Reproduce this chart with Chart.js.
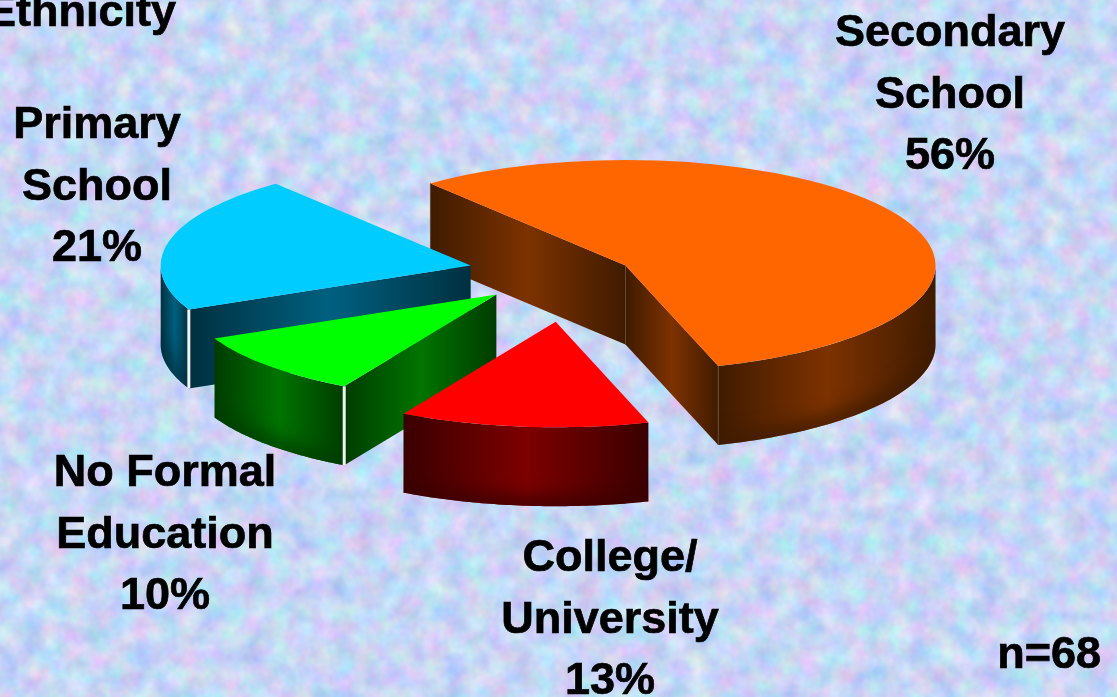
<!DOCTYPE html>
<html>
<head>
<meta charset="utf-8">
<title>Education by ethnicity</title>
<script src="https://cdn.jsdelivr.net/npm/chart.js@4"></script>
<style>
html, body { margin: 0; padding: 0; width: 1117px; height: 697px; overflow: hidden; background: #c6d2f5; }
#bg { position: absolute; left: 0; top: 0; }
#pie { position: absolute; left: 0; top: 0; }
</style>
</head>
<body>
<svg id="bg" width="1117" height="697">
  <filter id="mottle" x="0" y="0" width="100%" height="100%" color-interpolation-filters="sRGB">
    <feTurbulence type="fractalNoise" baseFrequency="0.045" numOctaves="3" seed="7"/>
    <feColorMatrix type="matrix" values="0.38 0 0 0 0.59  0 0.28 0 0 0.70  0 0 0.14 0 0.89  0 0 0 0 1"/>
  </filter>
  <rect width="1117" height="697" filter="url(#mottle)"/>
</svg>
<canvas id="pie" width="1117" height="697"></canvas>
<script>
// Data
const categories = ['Secondary\nSchool', 'College/\nUniversity', 'No Formal\nEducation', 'Primary\nSchool'];
const shares = [56, 13, 10, 21];
const topColors = ['#ff6600', '#ff0000', '#00ff00', '#00ccff'];
const wallMid = ['#7d3200', '#7d0000', '#007400', '#006080'];
const wallDark = ['#3f1b00', '#3a0000', '#003c00', '#00303f'];
const edgeColors = ['#6b4a30', null, '#f2f2f2', '#f2f2f2'];

// Layout of the fake 3D pie
const squash = 0.34;
const depth = 79;
const radius = 310;
const pieCenter = { x: 570, y: 275.5 };
const explodePx = [63, 137, 100, 102];
const liftPx = [0, 0, 4, 2];
const paintOrder = [0, 3, 2, 1];

const labelSpots = [
    { x: 950, y: 46 },
    { x: 610, y: 571 },
    { x: 165, y: 486 },
    { x: 97, y: 138 }
];
const lineGap = 61.5;
const fontBold = 'bold 45px "Liberation Sans"';

function wallGradient(ctx, x0, x1, i) {
    const g = ctx.createLinearGradient(x0, 0, x1, 0);
    g.addColorStop(0, wallDark[i]);
    g.addColorStop(0.5, wallMid[i]);
    g.addColorStop(1, wallDark[i]);
    return g;
}

// Where a slice's tip ends up on screen once it is pulled out of the pie
function tipOf(arc, i) {
    const mid = (arc.startAngle + arc.endAngle) / 2;
    return {
        x: pieCenter.x + explodePx[i] * Math.cos(mid),
        y: pieCenter.y + explodePx[i] * Math.sin(mid) * squash - liftPx[i]
    };
}

// Screen position of a point on a slice, radius r at angle a
function project(arc, i, a, r) {
    const tip = tipOf(arc, i);
    return { x: tip.x + r * Math.cos(a), y: tip.y + r * Math.sin(a) * squash };
}

function drawEdgeWall(ctx, arc, i, a) {
    const apex = project(arc, i, a, 0);
    const rim = project(arc, i, a, arc.outerRadius);
    ctx.fillStyle = wallGradient(ctx, Math.min(apex.x, rim.x), Math.max(apex.x, rim.x), i);
    ctx.beginPath();
    ctx.moveTo(apex.x, apex.y);
    ctx.lineTo(rim.x, rim.y);
    ctx.lineTo(rim.x, rim.y + depth);
    ctx.lineTo(apex.x, apex.y + depth);
    ctx.closePath();
    ctx.fill();
}

function drawOuterWall(ctx, arc, i) {
    // only the part of the rim that faces the viewer
    let from = arc.startAngle, to = arc.endAngle;
    const twoPi = Math.PI * 2;
    while (to > twoPi + Math.PI) { from -= twoPi; to -= twoPi; }
    if (to > twoPi) { from = Math.max(from, twoPi); }
    else { from = Math.max(from, 0); to = Math.min(to, Math.PI); }
    if (to <= from) return;
    const pts = [];
    for (let k = 0; k <= 60; k++) {
        pts.push(project(arc, i, from + (to - from) * k / 60, arc.outerRadius));
    }
    const xs = pts.map(p => p.x);
    ctx.save();
    ctx.beginPath();
    pts.forEach((p, k) => k ? ctx.lineTo(p.x, p.y) : ctx.moveTo(p.x, p.y));
    pts.slice().reverse().forEach(p => ctx.lineTo(p.x, p.y + depth));
    ctx.closePath();
    ctx.fillStyle = wallGradient(ctx, Math.min(...xs), Math.max(...xs), i);
    ctx.fill();
    ctx.clip();
    // darker along the lower rim
    ctx.filter = 'blur(9px)';
    ctx.strokeStyle = wallDark[i];
    ctx.lineWidth = 16;
    ctx.beginPath();
    pts.forEach((p, k) => k ? ctx.lineTo(p.x, p.y + depth) : ctx.moveTo(p.x, p.y + depth));
    ctx.stroke();
    ctx.restore();
}

function drawCornerLine(ctx, p, color) {
    ctx.strokeStyle = color;
    ctx.lineWidth = color === '#f2f2f2' ? 3 : 1;
    ctx.beginPath();
    ctx.moveTo(p.x, p.y);
    ctx.lineTo(p.x, p.y + depth);
    ctx.stroke();
}

function drawText(ctx, text, x, y) {
    ctx.fillText(text, x, y);
    ctx.strokeText(text, x, y);
}

const pie3d = {
    id: 'pie3d',
    beforeDatasetDraw(chart) {
        const ctx = chart.ctx;
        const arcs = chart.getDatasetMeta(0).data;
        paintOrder.forEach(i => {
            const arc = arcs[i];
            if (Math.cos(arc.startAngle) < 0) drawEdgeWall(ctx, arc, i, arc.startAngle);
            if (Math.cos(arc.endAngle) > 0) drawEdgeWall(ctx, arc, i, arc.endAngle);
            drawOuterWall(ctx, arc, i);
            if (edgeColors[i]) {
                drawCornerLine(ctx, project(arc, i, arc.startAngle, arc.outerRadius), edgeColors[i]);
                if (i === 0) {
                    drawCornerLine(ctx, project(arc, i, arc.endAngle, 0), edgeColors[i]);
                    drawCornerLine(ctx, project(arc, i, arc.endAngle, arc.outerRadius), edgeColors[i]);
                }
            }
            // top face, squashed flat
            const tip = tipOf(arc, i);
            ctx.save();
            ctx.translate(tip.x - arc.x, tip.y - arc.y * squash);
            ctx.scale(1, squash);
            arc.draw(ctx);
            ctx.restore();
        });
        return false;
    },
    afterDraw(chart) {
        const ctx = chart.ctx;
        ctx.save();
        ctx.fillStyle = '#000';
        ctx.strokeStyle = '#000';
        ctx.lineWidth = 0.7;
        ctx.font = fontBold;
        ctx.textAlign = 'center';
        categories.forEach((name, i) => {
            const lines = name.split('\n').concat(shares[i] + '%');
            lines.forEach((line, k) => {
                drawText(ctx, line, labelSpots[i].x, labelSpots[i].y + k * lineGap);
            });
        });
        ctx.textAlign = 'left';
        drawText(ctx, 'Ethnicity', -14, 26);
        ctx.textAlign = 'right';
        drawText(ctx, 'n=68', 1101, 668);
        ctx.restore();
    }
};

new Chart(document.getElementById('pie').getContext('2d'), {
    type: 'pie',
    data: {
        labels: categories.map(c => c.replace('\n', ' ')),
        datasets: [{
            data: shares,
            backgroundColor: topColors,
            borderWidth: 0,
            clip: false
        }]
    },
    options: {
        responsive: false,
        animation: false,
        rotation: -39,
        radius: radius,
        layout: { padding: 0 },
        events: [],
        plugins: { legend: { display: false }, tooltip: { enabled: false } }
    },
    plugins: [pie3d]
});
</script>
</body>
</html>
